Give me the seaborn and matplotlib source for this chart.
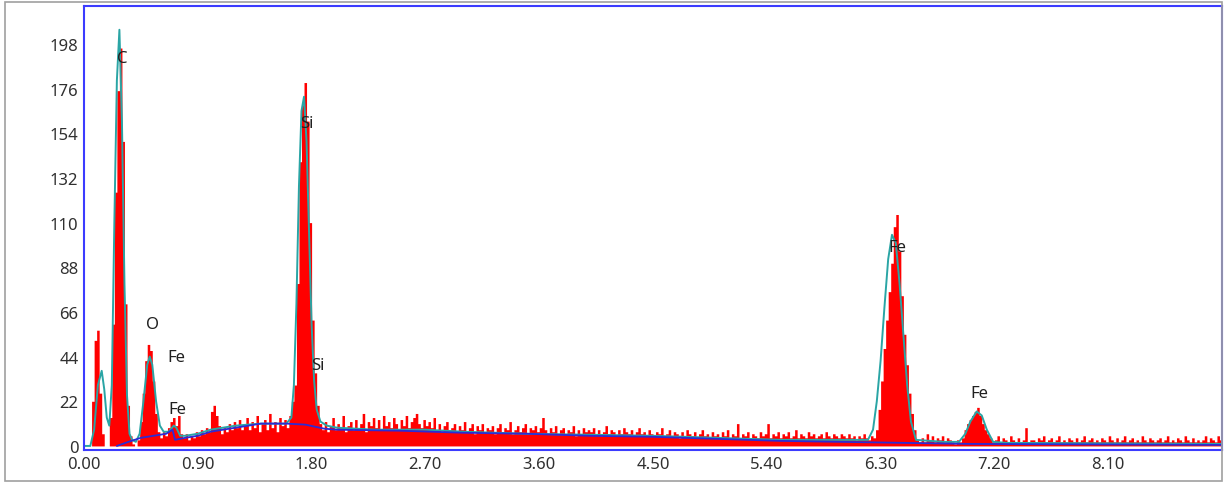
import numpy as np
import pandas as pd
import seaborn as sns
import matplotlib.pyplot as plt
from matplotlib.patches import Rectangle

# spectrum counts, 0.02 keV channels, one row = 0.5 keV
counts_rows = [
    [0, 0, 0, 22, 52, 57, 26, 6, 0, 0, 14, 60, 125, 175, 196, 150, 70, 20, 5, 1, 0, 3, 12, 26, 42],
    [50, 47, 32, 16, 7, 4, 7, 5, 9, 12, 14, 10, 15, 6, 4, 6, 3, 5, 4, 7, 5, 8, 6, 9, 7],
    [17, 20, 15, 10, 6, 9, 7, 11, 8, 12, 9, 13, 8, 10, 14, 8, 12, 9, 15, 7, 11, 13, 8, 16, 9],
    [12, 7, 14, 10, 13, 9, 15, 22, 30, 80, 140, 168, 179, 160, 110, 62, 36, 20, 11, 8, 12, 7, 10, 14, 8],
    [11, 9, 15, 7, 10, 12, 8, 13, 9, 11, 16, 7, 12, 10, 14, 9, 13, 8, 15, 10, 12, 9, 14, 11, 8],
    [13, 10, 15, 9, 12, 14, 16, 11, 9, 13, 10, 12, 9, 14, 8, 11, 7, 10, 12, 8, 9, 11, 7, 10, 8],
    [12, 7, 9, 11, 6, 10, 8, 11, 7, 9, 8, 10, 6, 9, 11, 7, 9, 8, 12, 6, 8, 10, 7, 9, 11],
    [6, 9, 8, 10, 7, 9, 14, 8, 6, 9, 7, 10, 6, 8, 9, 6, 8, 7, 10, 5, 8, 6, 9, 7, 8],
    [7, 9, 6, 8, 5, 7, 10, 6, 8, 7, 5, 8, 6, 9, 7, 6, 8, 5, 7, 9, 6, 7, 5, 8, 6],
    [5, 7, 6, 9, 5, 6, 8, 5, 7, 6, 4, 7, 5, 8, 6, 5, 7, 4, 6, 8, 5, 6, 4, 7, 5],
    [6, 4, 7, 5, 8, 4, 6, 5, 11, 4, 6, 5, 7, 4, 6, 5, 4, 7, 5, 6, 11, 4, 6, 5, 7],
    [4, 6, 5, 7, 4, 5, 8, 4, 6, 5, 4, 7, 5, 6, 4, 5, 6, 4, 7, 5, 4, 6, 5, 4, 6],
    [5, 4, 6, 4, 5, 3, 5, 4, 6, 4, 3, 5, 4, 8, 18, 32, 48, 62, 76, 90, 108, 114, 96, 74, 55],
    [40, 26, 16, 8, 3, 2, 4, 2, 6, 3, 5, 2, 4, 3, 5, 2, 4, 3, 2, 1, 3, 2, 4, 8, 11],
    [13, 15, 17, 19, 15, 11, 8, 6, 4, 2, 3, 5, 2, 4, 3, 2, 5, 3, 2, 4, 2, 3, 9, 2, 3],
    [3, 2, 4, 3, 5, 2, 3, 4, 2, 3, 5, 2, 3, 2, 4, 3, 2, 4, 2, 3, 5, 2, 3, 4, 2],
    [3, 2, 4, 3, 2, 5, 3, 2, 4, 2, 3, 5, 2, 3, 4, 2, 3, 2, 5, 3, 2, 4, 3, 2, 3],
    [4, 2, 3, 5, 2, 3, 2, 4, 3, 2, 5, 3, 2, 4, 2, 3, 2, 3, 5, 2, 4, 3, 2, 5, 3],
]
channel_width = 0.02

# fitted spectrum (cyan)
fit_energy = [0.00, 0.05, 0.08, 0.11, 0.14, 0.16, 0.18, 0.20, 0.22, 0.24, 0.26, 0.28, 0.30,
              0.32, 0.34, 0.36, 0.38, 0.41, 0.44, 0.47, 0.50, 0.52, 0.54, 0.57, 0.60, 0.63,
              0.67, 0.71, 0.73, 0.76, 0.80, 0.90, 1.00, 1.10, 1.20, 1.40, 1.60, 1.64, 1.66,
              1.68, 1.70, 1.72, 1.74, 1.76, 1.78, 1.80, 1.82, 1.84, 1.87, 1.92, 2.00, 2.30,
              2.70, 3.00, 3.50, 4.00, 4.50, 5.00, 5.50, 6.00, 6.20, 6.24, 6.27, 6.30, 6.33,
              6.36, 6.39, 6.42, 6.45, 6.48, 6.51, 6.54, 6.58, 6.80, 6.92, 6.97, 7.01, 7.06,
              7.10, 7.14, 7.19, 7.30, 9.00]
fit_counts = [0, 0, 8, 30, 37, 28, 14, 10, 30, 110, 180, 205, 160,
              80, 25, 6, 3, 2, 6, 22, 40, 44, 40, 22, 10, 7,
              7, 10, 9, 5, 5, 6, 8, 9, 10, 11, 11, 14, 30,
              70, 128, 165, 172, 150, 105, 60, 32, 18, 12, 10, 9, 8,
              8, 7, 6, 5.5, 5, 4, 3, 3, 3, 8, 22, 42, 68,
              92, 104, 100, 80, 55, 30, 12, 3, 2, 2, 6, 12, 17,
              15, 8, 2, 1.5, 1]

# background (blue)
bg_energy = [0.26, 0.35, 0.45, 0.55, 0.65, 0.70, 0.72, 0.80, 0.90, 1.00, 1.20, 1.40,
             1.60, 1.75, 1.90, 2.00, 2.50, 3.00, 3.50, 4.00, 4.50, 5.00, 5.50, 6.00,
             6.50, 7.00, 9.00]
bg_counts = [0, 2, 4, 5, 6, 8, 3, 4, 5, 7, 9, 11,
             11, 10.5, 8.5, 8, 7.5, 6.5, 6, 5, 4.5, 3.5, 2.5, 2,
             1.5, 1, 0.5]

# element labels
label_text = ["C", "O", "Fe", "Fe", "Si", "Si", "Fe", "Fe"]
label_energy = [0.30, 0.54, 0.73, 0.74, 1.76, 1.85, 6.43, 7.08]
label_counts = [191, 60, 44, 18, 159, 40, 98, 26]

xtick_values = [0.00, 0.90, 1.80, 2.70, 3.60, 4.50, 5.40, 6.30, 7.20, 8.10]
ytick_values = [0, 22, 44, 66, 88, 110, 132, 154, 176, 198]

counts = np.concatenate(counts_rows)
centers = np.arange(len(counts)) * channel_width + channel_width / 2
df = pd.DataFrame({"energy": centers, "counts": counts})

sns.set_style("white")
plt.rcParams['font.family'] = ['Noto Sans', 'DejaVu Sans']

fig = plt.figure(figsize=(12.24, 4.85), dpi=100)
ax = fig.add_axes([84 / 1224, 1 - 451 / 485, (1222 - 84) / 1224, (451 - 7) / 485])

sns.histplot(data=df, x="energy", weights="counts", binwidth=channel_width,
             binrange=(0, len(counts) * channel_width), element="step",
             fill=True, color="#ff0000", alpha=1, linewidth=0, ax=ax)
sns.lineplot(x=fit_energy, y=fit_counts, color="#2aa5a5", linewidth=1.4,
             estimator=None, ax=ax)
sns.lineplot(x=bg_energy, y=bg_counts, color="#2b2bd6", linewidth=1.3,
             estimator=None, ax=ax)

for t, e, c in zip(label_text, label_energy, label_counts):
    ax.text(e, c, t, ha="center", va="center", fontsize=12, color="#202020")

ax.set_xlim(0, 9.0)
ax.set_ylim(-2, 216.7)
ax.set_xticks(xtick_values)
ax.set_xticklabels(["%.2f" % v for v in xtick_values])
ax.set_yticks(ytick_values)
ax.tick_params(axis="both", labelsize=12, length=2, pad=2, color="#4040ff", labelcolor="#303030")
ax.set_xlabel("")
ax.set_ylabel("")
for s in ax.spines.values():
    s.set_color("#3c3cff")
    s.set_linewidth(1.5)

fig.patches.append(Rectangle((5 / 1224, 3 / 485), 1217 / 1224, 479 / 485,
                             transform=fig.transFigure, fill=False,
                             edgecolor="#a0a0a0", linewidth=1.2))

fig.savefig("out.png", dpi=100)
